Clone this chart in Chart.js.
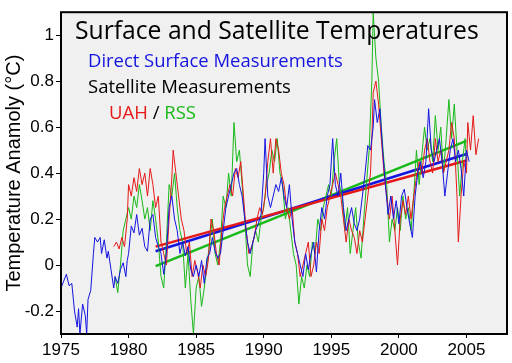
<!DOCTYPE html>
<html>
<head>
<meta charset="utf-8">
<script src="https://cdn.jsdelivr.net/npm/chart.js@4/dist/chart.umd.min.js"></script>
<style>
    body{margin:0;background:#fff;}
    #box{width:512px;height:363px;}
</style>
</head>
<body>
<div id="box"><canvas id="graf1" width="512" height="363"></canvas></div>
<script>
// surface record (blue)
const surfYears = [1975.0,1975.2,1975.4,1975.6,1975.8,1976.0,1976.2,1976.3,1976.4,1976.6,1976.8,1976.9,1977.0,1977.2,1977.4,1977.5,1977.7,1977.9,
    1978.0,1978.2,1978.4,1978.5,1978.7,1978.9,1979.0,1979.2,1979.4,1979.6,1979.8,1979.9,
    1980.0,1980.2,1980.4,1980.6,1980.8,1981.0,1981.2,1981.4,1981.6,1981.8,1982.0,1982.2,1982.4,1982.6,1982.8,
    1983.0,1983.2,1983.4,1983.6,1983.8,1984.0,1984.2,1984.4,1984.6,1984.8,1985.0,1985.2,1985.4,1985.6,1985.8,
    1986.0,1986.2,1986.4,1986.6,1986.8,1987.0,1987.2,1987.4,1987.6,1987.8,1988.0,1988.2,1988.4,1988.6,1988.8,
    1989.0,1989.2,1989.4,1989.6,1989.8,1990.0,1990.1,1990.3,1990.5,1990.7,1990.9,1991.1,1991.3,1991.5,1991.7,1991.9,
    1992.1,1992.3,1992.5,1992.7,1992.9,1993.1,1993.3,1993.5,1993.7,1993.9,1994.1,1994.3,1994.5,1994.7,1994.9,
    1995.1,1995.3,1995.5,1995.7,1995.9,1996.1,1996.3,1996.5,1996.7,1996.9,1997.1,1997.3,1997.5,1997.7,1997.9,
    1998.1,1998.2,1998.4,1998.6,1998.8,1999.0,1999.2,1999.4,1999.6,1999.8,2000.0,2000.2,2000.4,2000.6,2000.8,
    2001.0,2001.2,2001.4,2001.6,2001.8,2002.0,2002.2,2002.4,2002.6,2002.8,2003.0,2003.2,2003.4,2003.6,2003.8,
    2004.0,2004.2,2004.4,2004.6,2004.8,2005.0,2005.2];
const surfTemps = [-0.10,-0.07,-0.04,-0.09,-0.08,-0.20,-0.27,-0.19,-0.30,-0.17,-0.22,-0.30,-0.15,-0.11,0.05,0.12,0.10,0.12,
    0.05,0.11,0.03,0.06,-0.02,-0.10,-0.05,-0.08,-0.02,0.01,-0.05,0.02,
    0.05,0.17,0.14,0.22,0.13,0.16,0.08,0.06,0.20,0.22,0.12,0.08,0.05,-0.04,0.05,
    0.25,0.30,0.20,0.15,0.05,0.10,0.04,0.08,-0.02,-0.05,0.00,-0.05,0.02,-0.08,0.03,
    0.05,0.12,0.06,0.03,0.05,0.15,0.25,0.30,0.35,0.40,0.42,0.35,0.30,0.20,0.10,
    0.05,0.10,0.15,0.18,0.22,0.40,0.55,0.30,0.25,0.30,0.35,0.32,0.38,0.30,0.25,0.35,
    0.20,0.10,0.05,0.00,-0.05,0.05,-0.02,0.05,0.10,-0.03,0.15,0.25,0.20,0.30,0.35,
    0.55,0.35,0.30,0.40,0.25,0.15,0.20,0.25,0.18,0.15,0.20,0.30,0.40,0.52,0.50,
    0.60,0.72,0.62,0.68,0.50,0.35,0.22,0.30,0.20,0.28,0.18,0.30,0.33,0.25,0.18,
    0.12,0.30,0.40,0.45,0.38,0.45,0.68,0.50,0.45,0.50,0.55,0.45,0.30,0.40,0.50,
    0.55,0.45,0.50,0.42,0.30,0.50,0.45];

// satellite UAH (red)
const uahYears = [1978.9,1979.1,1979.3,1979.5,1979.7,1979.9,1980.0,1980.2,1980.4,1980.6,1980.8,1981.0,1981.2,1981.4,1981.6,1981.8,
    1982.0,1982.2,1982.4,1982.6,1982.8,1983.0,1983.2,1983.3,1983.5,1983.7,1983.9,1984.1,1984.3,1984.5,1984.7,1984.9,
    1985.1,1985.3,1985.5,1985.7,1985.9,1986.1,1986.3,1986.5,1986.7,1986.9,1987.1,1987.3,1987.5,1987.7,1987.9,
    1988.1,1988.3,1988.5,1988.7,1988.9,1989.1,1989.3,1989.5,1989.7,1989.9,1990.1,1990.3,1990.5,1990.7,1990.9,
    1991.1,1991.3,1991.5,1991.7,1991.9,1992.1,1992.3,1992.5,1992.7,1992.9,1993.1,1993.3,1993.5,1993.7,1993.9,
    1994.1,1994.3,1994.5,1994.7,1994.9,1995.1,1995.3,1995.5,1995.7,1995.9,1996.1,1996.3,1996.5,1996.7,1996.9,
    1997.1,1997.3,1997.5,1997.7,1997.9,1998.0,1998.1,1998.3,1998.5,1998.7,1998.9,1999.1,1999.3,1999.5,1999.7,1999.9,
    2000.1,2000.3,2000.5,2000.7,2000.9,2001.1,2001.3,2001.5,2001.7,2001.9,2002.1,2002.3,2002.5,2002.7,2002.9,
    2003.1,2003.3,2003.5,2003.7,2003.9,2004.1,2004.3,2004.4,2004.6,2004.8,2005.0,2005.1,2005.3,2005.5,2005.7,2005.9];
const uahTemps = [0.08,0.10,0.07,0.12,0.08,0.20,0.35,0.30,0.38,0.32,0.42,0.35,0.40,0.30,0.42,0.35,
    0.25,0.30,0.10,0.05,0.00,0.20,0.38,0.50,0.40,0.30,0.20,0.15,0.05,0.10,-0.05,0.02,
    -0.03,-0.10,0.00,-0.05,0.02,0.20,0.15,0.05,0.00,0.15,0.25,0.30,0.35,0.30,0.42,
    0.38,0.45,0.30,0.15,0.05,0.08,0.12,0.20,0.25,0.22,0.30,0.45,0.55,0.40,0.55,
    0.50,0.40,0.35,0.25,0.20,0.25,0.10,0.05,-0.05,0.00,0.05,0.10,-0.05,0.00,0.10,
    0.05,0.20,0.15,0.25,0.30,0.35,0.40,0.35,0.30,0.20,0.10,0.20,0.15,0.12,0.05,
    0.15,0.10,0.20,0.30,0.40,0.55,0.75,0.80,0.70,0.55,0.40,0.30,0.20,0.30,0.15,0.00,
    0.20,0.28,0.22,0.30,0.20,0.30,0.38,0.45,0.40,0.50,0.55,0.45,0.40,0.55,0.45,
    0.50,0.40,0.45,0.50,0.62,0.55,0.30,0.10,0.30,0.45,0.40,0.62,0.50,0.65,0.48,0.55];

// satellite RSS (green)
const rssYears = [1979.0,1979.2,1979.4,1979.6,1979.8,1980.0,1980.2,1980.4,1980.6,1980.8,1981.0,1981.2,1981.4,1981.6,1981.8,
    1982.0,1982.2,1982.4,1982.6,1982.8,1983.0,1983.2,1983.4,1983.6,1983.8,1984.0,1984.2,1984.4,1984.6,1984.8,
    1985.0,1985.2,1985.4,1985.6,1985.8,1986.0,1986.2,1986.4,1986.6,1986.8,1987.0,1987.2,1987.4,1987.6,1987.8,
    1988.0,1988.2,1988.4,1988.6,1988.8,1989.0,1989.2,1989.4,1989.6,1989.8,1990.0,1990.2,1990.4,1990.6,1990.8,
    1991.0,1991.2,1991.4,1991.6,1991.8,1992.0,1992.2,1992.4,1992.6,1992.8,1993.0,1993.2,1993.4,1993.6,1993.8,
    1994.0,1994.2,1994.4,1994.6,1994.8,1995.0,1995.2,1995.4,1995.6,1995.8,1996.0,1996.2,1996.4,1996.6,1996.8,
    1997.0,1997.2,1997.4,1997.6,1997.8,1998.0,1998.1,1998.3,1998.5,1998.7,1998.9,1999.1,1999.3,1999.5,1999.7,1999.9,
    2000.1,2000.3,2000.5,2000.7,2000.9,2001.1,2001.3,2001.5,2001.7,2001.9,2002.1,2002.3,2002.5,2002.7,2002.9,
    2003.1,2003.3,2003.5,2003.7,2003.9,2004.1,2004.3,2004.5,2004.7,2004.9,2005.0];
const rssTemps = [-0.05,-0.12,0.00,0.15,0.20,0.25,0.20,0.30,0.25,0.35,0.28,0.20,0.25,0.15,0.28,
    0.20,0.10,-0.05,-0.10,0.10,0.35,0.30,0.40,0.25,0.15,0.10,-0.10,0.05,-0.15,-0.30,
    -0.10,-0.05,-0.18,-0.10,0.00,0.10,0.20,0.05,0.00,0.10,0.30,0.25,0.40,0.30,0.62,
    0.45,0.50,0.35,0.20,0.00,-0.05,0.10,0.15,0.10,0.20,0.25,0.35,0.40,0.50,0.45,
    0.55,0.40,0.35,0.20,0.25,0.15,0.05,0.00,-0.17,-0.05,-0.10,0.00,-0.05,0.10,0.05,
    0.20,0.15,0.25,0.30,0.35,0.30,0.45,0.55,0.35,0.30,0.15,0.25,0.05,0.15,0.25,
    0.10,0.03,0.20,0.35,0.50,0.80,1.10,0.90,0.80,0.60,0.45,0.35,0.10,0.20,0.15,0.25,
    0.15,0.30,0.20,0.25,0.15,0.30,0.50,0.35,0.48,0.60,0.50,0.55,0.45,0.65,0.50,
    0.60,0.40,0.55,0.72,0.55,0.70,0.50,0.30,0.45,0.55,0.45];

// linear trends 1982-2005: [start, end]
const trendYears = [1982.0, 2005.0];
const trendUah = [0.08, 0.455];
const trendSurf = [0.06, 0.483];
const trendRss = [-0.005, 0.54];

const xTicks = [1975,1980,1985,1990,1995,2000,2005];
const yTicks = [-0.2,0,0.2,0.4,0.6,0.8,1];

const COR = {
    azul:'rgb(20,20,225)', vermelho:'rgb(230,25,25)', verde:'rgb(25,185,25)',
    fundo:'#f0f0f0'
};

function pares(xs, ys){
    return xs.map((x,i)=>({x:x, y:ys[i]}));
}

function serie(label, xs, ys, cor, larg){
    return {
        label: label,
        data: pares(xs, ys),
        borderColor: cor,
        backgroundColor: cor,
        borderWidth: larg,
        pointRadius: 0,
        tension: 0,
        fill: false
    };
}

// fundo cinza + moldura + textos dentro do grafico
const moldura = {
    id: 'moldura',
    beforeDatasetsDraw(chart){
        let c = chart.ctx, a = chart.chartArea;
        c.save();
        c.fillStyle = COR.fundo;
        c.fillRect(a.left, a.top, a.right - a.left, a.bottom - a.top);
        c.restore();
    },
    afterDraw(chart){
        let c = chart.ctx, a = chart.chartArea;
        c.save();
        c.strokeStyle = '#000';
        c.lineWidth = 2;
        c.strokeRect(a.left, a.top, a.right - a.left, a.bottom - a.top);
        textos(c);
        c.restore();
    }
};

function fonteAjustada(c, txt, largura){
    c.font = '100px "Open Sans"';
    let w = c.measureText(txt).width;
    return 100 * largura / w;
}

function textos(c){
    c.textBaseline = 'alphabetic';
    c.textAlign = 'left';
    let t = 'Surface and Satellite Temperatures';
    let s = fonteAjustada(c, t, 404);
    c.font = s + 'px "Open Sans"';
    c.fillStyle = '#000';
    c.fillText(t, 75, 39);

    let l1 = 'Direct Surface Measurements';
    s = fonteAjustada(c, l1, 255);
    c.font = s + 'px "Open Sans"';
    c.fillStyle = COR.azul;
    c.fillText(l1, 88, 67);

    let l2 = 'Satellite Measurements';
    s = fonteAjustada(c, l2, 203);
    c.font = s + 'px "Open Sans"';
    c.fillStyle = '#000';
    c.fillText(l2, 88, 93);

    let x = 109;
    c.fillStyle = COR.vermelho;
    c.fillText('UAH', x, 119);
    x += c.measureText('UAH ').width;
    c.fillStyle = '#000';
    c.fillText('/', x, 119);
    x += c.measureText('/ ').width;
    c.fillStyle = COR.verde;
    c.fillText('RSS', x, 119);
}

function chartTemp(){
    let ctx = document.getElementById("graf1");
    let config = {
        type: 'line',
        data: {
            datasets: [
                serie('Surface', surfYears, surfTemps, COR.azul, 1),
                serie('UAH', uahYears, uahTemps, COR.vermelho, 1),
                serie('RSS', rssYears, rssTemps, COR.verde, 1),
                serie('UAH trend', trendYears, trendUah, COR.vermelho, 2.5),
                serie('Surface trend', trendYears, trendSurf, COR.azul, 2.5),
                serie('RSS trend', trendYears, trendRss, COR.verde, 2.5)
            ]
        },
        options: {
            responsive: false,
            animation: false,
            events: [],
            layout: { padding: { left: 0, top: 8, right: 5, bottom: 0 } },
            scales: {
                x: {
                    type: 'linear',
                    min: 1975,
                    max: 2008,
                    afterBuildTicks: (sc)=>{ sc.ticks = xTicks.map(v=>({value:v})); },
                    afterFit: (sc)=>{ sc.height = 29; },
                    grid: { drawOnChartArea: false, drawTicks: true, tickLength: 4, color: '#000', lineWidth: 1 },
                    border: { display: false },
                    ticks: {
                        color: '#000',
                        padding: 2,
                        maxRotation: 0,
                        font: { family: '"Liberation Sans", Arial', size: 17 },
                        callback: (v)=>String(v)
                    }
                },
                y: {
                    type: 'linear',
                    min: -0.3,
                    max: 1.1,
                    afterBuildTicks: (sc)=>{ sc.ticks = yTicks.map(v=>({value:v})); },
                    afterFit: (sc)=>{ sc.width = 61; },
                    grid: { drawOnChartArea: false, drawTicks: true, tickLength: 5, color: '#000', lineWidth: 1 },
                    border: { display: false },
                    ticks: {
                        color: '#000',
                        padding: 2,
                        font: { family: '"Liberation Sans", Arial', size: 17 },
                        callback: (v)=>String(Math.round(v*10)/10)
                    },
                    title: {
                        display: true,
                        text: 'Temperature Anamoly (°C)',
                        color: '#000',
                        padding: { top: 2, bottom: 0 },
                        font: { family: '"Liberation Sans", Arial', size: 20 }
                    }
                }
            },
            plugins: {
                legend: { display: false },
                tooltip: { enabled: false }
            }
        },
        plugins: [moldura]
    };
    const cTemp = new Chart(ctx, config);
}

chartTemp();
</script>
</body>
</html>
